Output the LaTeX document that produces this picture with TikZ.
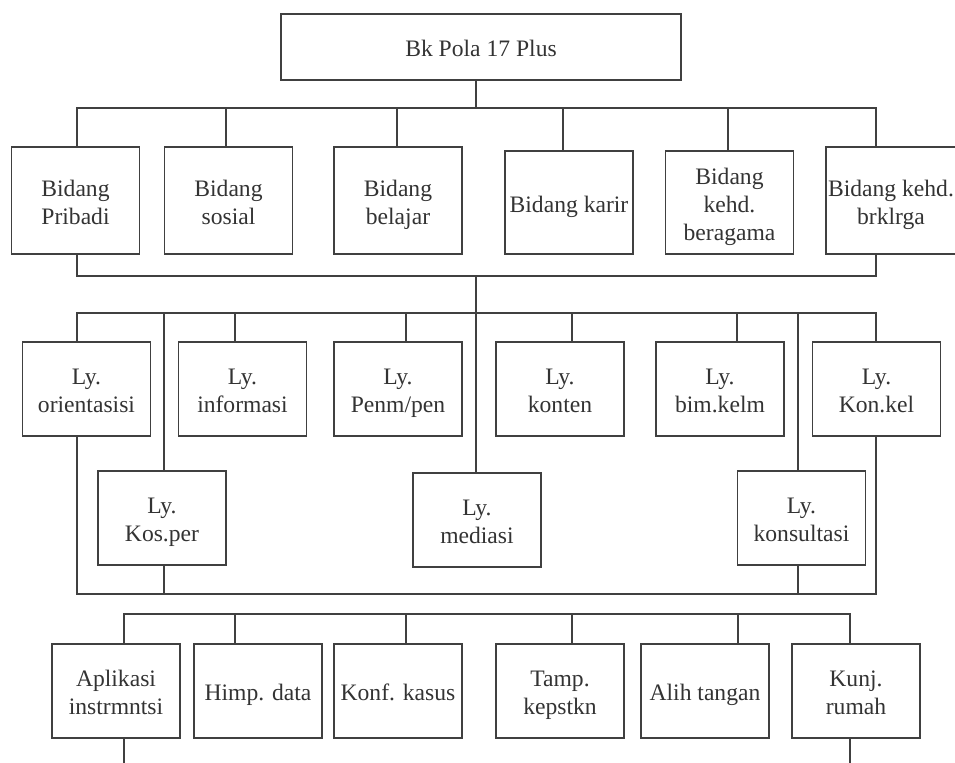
\documentclass[tikz,border=0pt]{standalone}
\usepackage{fontspec}
\setmainfont{Liberation Serif}
\definecolor{Garis}{rgb}{0.25, 0.25, 0.25}
\definecolor{Teks}{rgb}{0.2, 0.2, 0.2}
\newcommand{\atas}{\rule{0pt}{14pt}}

\begin{document}
\begin{tikzpicture}[x=0.5pt, y=-0.5pt, every node/.style={font=\fontsize{11.8}{14}\selectfont, text=Teks}]

      \tikzstyle{Kotak}=[rectangle, draw=Garis, line width=0.65pt, inner sep=0pt, minimum width=64pt, minimum height=47pt];
      \tikzstyle{Hubung}=[draw=Garis, line width=0.65pt];

      \useasboundingbox (0,0) rectangle (955,763);
      \clip (0,0) rectangle (955,763);

        % puncak
        \node[Kotak, minimum width=200pt, minimum height=33pt](Pola) at (481, 47) {\atas Bk Pola 17 Plus\strut};

        % bidang
        \node[Kotak, minimum height=53.5pt](Pribadi) at (75.5, 200.5) {
          \parbox{62pt}{\centering\atas Bidang\\Pribadi\strut}};
        \node[Kotak, minimum height=53.5pt](Sosial) at (228.5, 200.5) {
          \parbox{62pt}{\centering\atas Bidang\\sosial\strut}};
        \node[Kotak, minimum height=53.5pt](Belajar) at (398, 200.5) {
          \parbox{62pt}{\centering\atas Bidang\\belajar\strut}};
        \node[Kotak, minimum height=51.5pt](Karir) at (569, 202.5) {
          \parbox{62pt}{\centering\atas Bidang karir\strut}};
        \node[Kotak, minimum height=51.5pt](Beragama) at (729.5, 202.5) {
          \parbox{62pt}{\centering\atas Bidang\\kehd.\\beragama\strut}};
        \node[Kotak, minimum width=65pt, minimum height=53.5pt](Keluarga) at (891, 200.5) {
          \parbox{64pt}{\centering\atas Bidang kehd.\\brklrga\strut}};

        % layanan
        \node[Kotak](Orientasi) at (86.5, 389) {
          \parbox{62pt}{\centering\atas Ly.\\orientasisi\strut}};
        \node[Kotak](Informasi) at (242.5, 389) {
          \parbox{62pt}{\centering\atas Ly.\\informasi\strut}};
        \node[Kotak](Penempatan) at (398, 389) {
          \parbox{62pt}{\centering\atas Ly.\\Penm/pen\strut}};
        \node[Kotak](Konten) at (560, 389) {
          \parbox{62pt}{\centering\atas Ly.\\konten\strut}};
        \node[Kotak](BimKel) at (720, 389) {
          \parbox{62pt}{\centering\atas Ly.\\bim.kelm\strut}};
        \node[Kotak](KonKel) at (876.5, 389) {
          \parbox{62pt}{\centering\atas Ly.\\Kon.kel\strut}};

        \node[Kotak](KosPer) at (162, 518) {
          \parbox{62pt}{\centering\atas Ly.\\Kos.per\strut}};
        \node[Kotak](Mediasi) at (477, 520) {
          \parbox{62pt}{\centering\atas Ly.\\mediasi\strut}};
        \node[Kotak](Konsultasi) at (801.5, 518) {
          \parbox{62pt}{\centering\atas Ly.\\konsultasi\strut}};

        % kegiatan pendukung
        \node[Kotak](Aplikasi) at (116, 691) {
          \parbox{62pt}{\centering\atas Aplikasi\\instrmntsi\strut}};
        \node[Kotak](Himpun) at (258, 691) {
          \parbox{62pt}{\centering\atas Himp. data\strut}};
        \node[Kotak](Konferensi) at (398, 691) {
          \parbox{62pt}{\centering\atas Konf. kasus\strut}};
        \node[Kotak](Tampil) at (560, 691) {
          \parbox{62pt}{\centering\atas Tamp.\\kepstkn\strut}};
        \node[Kotak](AlihTangan) at (705, 691) {
          \parbox{62pt}{\centering\atas Alih tangan\strut}};
        \node[Kotak](Kunjungan) at (856, 691) {
          \parbox{62pt}{\centering\atas Kunj.\\rumah\strut}};

        % garis bidang
        \coordinate (Cab1) at (476, 108);
        \coordinate (c1a) at (77, 108);
        \coordinate (c1b) at (226, 108);
        \coordinate (c1c) at (397, 108);
        \coordinate (c1d) at (563, 108);
        \coordinate (c1e) at (728, 108);
        \coordinate (c1f) at (876, 108);
        \draw[Hubung] (Pola.south -| Cab1) -- (Cab1);
        \draw[Hubung] (Pribadi.north -| c1a) -- (c1a) -- (c1f) -- (Keluarga.north -| c1f);
        \draw[Hubung] (c1b) -- (Sosial.north -| c1b);
        \draw[Hubung] (c1c) -- (Belajar.north -| c1c);
        \draw[Hubung] (c1d) -- (Karir.north -| c1d);
        \draw[Hubung] (c1e) -- (Beragama.north -| c1e);

        \coordinate (Cab2) at (476, 276);
        \coordinate (c2a) at (77, 276);
        \coordinate (c2b) at (876, 276);
        \draw[Hubung] (Pribadi.south -| c2a) -- (c2a) -- (c2b) -- (Keluarga.south -| c2b);

        % garis layanan
        \coordinate (Cab3) at (476, 313);
        \coordinate (c3a) at (77, 313);
        \coordinate (c3b) at (164, 313);
        \coordinate (c3c) at (235, 313);
        \coordinate (c3d) at (406, 313);
        \coordinate (c3e) at (572, 313);
        \coordinate (c3f) at (737, 313);
        \coordinate (c3g) at (798, 313);
        \coordinate (c3h) at (876, 313);
        \draw[Hubung] (Cab2) -- (Cab3);
        \draw[Hubung] (Orientasi.north -| c3a) -- (c3a) -- (c3h) -- (KonKel.north -| c3h);
        \draw[Hubung] (c3b) -- (KosPer.north -| c3b);
        \draw[Hubung] (c3c) -- (Informasi.north -| c3c);
        \draw[Hubung] (c3d) -- (Penempatan.north -| c3d);
        \draw[Hubung] (Cab3) -- (Mediasi.north -| Cab3);
        \draw[Hubung] (c3e) -- (Konten.north -| c3e);
        \draw[Hubung] (c3f) -- (BimKel.north -| c3f);
        \draw[Hubung] (c3g) -- (Konsultasi.north -| c3g);

        \coordinate (c4a) at (77, 594);
        \coordinate (c4b) at (164, 594);
        \coordinate (c4c) at (798, 594);
        \coordinate (c4d) at (876, 594);
        \draw[Hubung] (Orientasi.south -| c4a) -- (c4a) -- (c4d) -- (KonKel.south -| c4d);
        \draw[Hubung] (KosPer.south -| c4b) -- (c4b);
        \draw[Hubung] (Konsultasi.south -| c4c) -- (c4c);

        % garis kegiatan pendukung
        \coordinate (c5a) at (124, 614);
        \coordinate (c5b) at (235, 614);
        \coordinate (c5c) at (406, 614);
        \coordinate (c5d) at (572, 614);
        \coordinate (c5e) at (738, 614);
        \coordinate (c5f) at (850, 614);
        \draw[Hubung] (Aplikasi.north -| c5a) -- (c5a) -- (c5f) -- (Kunjungan.north -| c5f);
        \draw[Hubung] (c5b) -- (Himpun.north -| c5b);
        \draw[Hubung] (c5c) -- (Konferensi.north -| c5c);
        \draw[Hubung] (c5d) -- (Tampil.north -| c5d);
        \draw[Hubung] (c5e) -- (AlihTangan.north -| c5e);

        \coordinate (Kaki1) at (124, 763);
        \coordinate (Kaki2) at (850, 763);
        \draw[Hubung] (Aplikasi.south -| Kaki1) -- (Kaki1);
        \draw[Hubung] (Kunjungan.south -| Kaki2) -- (Kaki2);

    \end{tikzpicture}
\end{document}
